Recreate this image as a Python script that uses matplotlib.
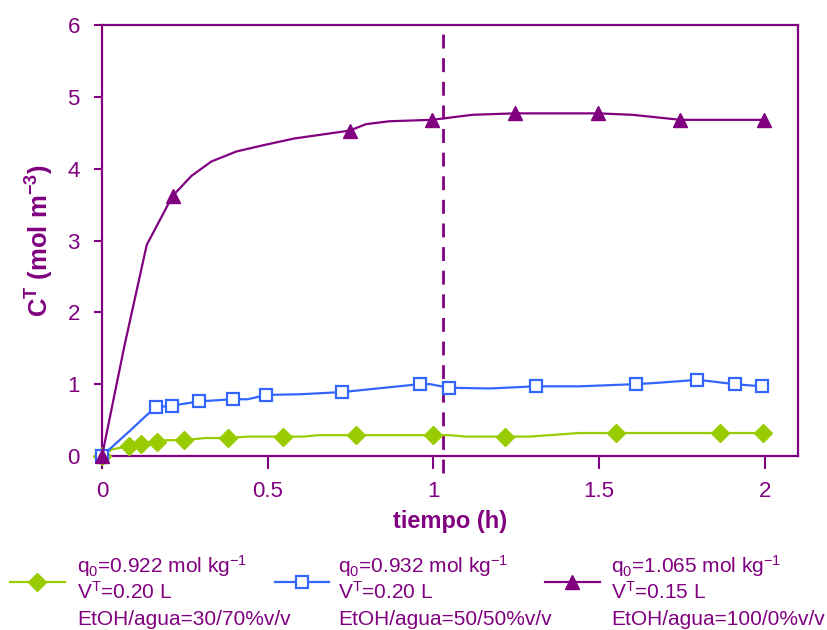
import matplotlib
matplotlib.use("Agg")
import matplotlib.pyplot as plt
from matplotlib.lines import Line2D

plt.rcParams['font.family'] = ['Liberation Sans', 'DejaVu Sans']
plt.rcParams['mathtext.fontset'] = 'custom'
plt.rcParams['mathtext.rm'] = 'Liberation Sans'
plt.rcParams['mathtext.it'] = 'Liberation Sans'
plt.rcParams['mathtext.bf'] = 'Liberation Sans:bold'

PURPLE = '#800080'
BLUE = '#3366FF'
GREEN = '#99CC00'

# Purple series (EtOH/agua = 100/0)
t_line_p = [0, 0.067, 0.135, 0.213, 0.27, 0.33, 0.406, 0.49, 0.58, 0.747, 0.797, 0.867,
            0.996, 1.118, 1.245, 1.496, 1.6, 1.745, 1.996]
c_line_p = [0, 1.52, 2.94, 3.62, 3.90, 4.10, 4.24, 4.33, 4.42, 4.53, 4.62, 4.66,
            4.68, 4.75, 4.77, 4.77, 4.75, 4.68, 4.68]
t_mark_p = [0, 0.213, 0.747, 0.996, 1.245, 1.496, 1.745, 1.996]
c_mark_p = [0, 3.62, 4.53, 4.68, 4.77, 4.77, 4.68, 4.68]

# Blue series (EtOH/agua = 50/50)
t_line_b = [0, 0.084, 0.135, 0.163, 0.21, 0.293, 0.394, 0.44, 0.496, 0.60, 0.725, 0.958,
            0.99, 1.046, 1.169, 1.309, 1.44, 1.61, 1.68, 1.796, 1.836, 1.909, 1.99]
c_line_b = [0, 0.35, 0.57, 0.68, 0.70, 0.76, 0.79, 0.79, 0.85, 0.86, 0.89, 1.00,
            1.00, 0.95, 0.94, 0.97, 0.97, 1.00, 1.02, 1.06, 1.04, 1.00, 0.97]
t_mark_b = [0, 0.163, 0.21, 0.293, 0.394, 0.496, 0.725, 0.958, 1.046, 1.309, 1.61, 1.796, 1.909, 1.99]
c_mark_b = [0.0, 0.68, 0.70, 0.76, 0.79, 0.85, 0.89, 1.00, 0.95, 0.97, 1.00, 1.06, 1.00, 0.97]

# Green series (EtOH/agua = 30/70)
t_line_g = [0, 0.029, 0.081, 0.119, 0.165, 0.195, 0.248, 0.31, 0.38, 0.44, 0.546, 0.61,
            0.652, 0.767, 0.998, 1.048, 1.098, 1.217, 1.29, 1.44, 1.55, 1.864, 1.995]
c_line_g = [0, 0.09, 0.14, 0.17, 0.20, 0.22, 0.22, 0.25, 0.25, 0.27, 0.27, 0.27,
            0.29, 0.29, 0.29, 0.29, 0.27, 0.27, 0.27, 0.32, 0.32, 0.32, 0.32]
t_mark_g = [0, 0.081, 0.119, 0.165, 0.248, 0.38, 0.546, 0.767, 0.998, 1.217, 1.55, 1.864, 1.995]
c_mark_g = [0, 0.14, 0.17, 0.20, 0.22, 0.25, 0.27, 0.29, 0.29, 0.27, 0.32, 0.32, 0.32]

t_switch = 1.03

legend_lines = [
    ["q$_0$=0.922 mol kg$^{-1}$", "V$^{\\mathrm{T}}$=0.20 L", "EtOH/agua=30/70%v/v"],
    ["q$_0$=0.932 mol kg$^{-1}$", "V$^{\\mathrm{T}}$=0.20 L", "EtOH/agua=50/50%v/v"],
    ["q$_0$=1.065 mol kg$^{-1}$", "V$^{\\mathrm{T}}$=0.15 L", "EtOH/agua=100/0%v/v"],
]

W, H = 828, 630
fig = plt.figure(figsize=(W / 100, H / 100), dpi=100)
ax = fig.add_axes([0.1232, 0.2762, 0.8406, 0.6841])

styles = [
    dict(color=GREEN, marker='D', ms=9, mfc=GREEN, mec=GREEN, mew=1.0),
    dict(color=BLUE, marker='s', ms=8, mfc='white', mec=BLUE, mew=1.6),
    dict(color=PURPLE, marker='^', ms=10, mfc=PURPLE, mec=PURPLE, mew=1.0),
]

series = [
    (t_line_g, c_line_g, t_mark_g, c_mark_g),
    (t_line_b, c_line_b, t_mark_b, c_mark_b),
    (t_line_p, c_line_p, t_mark_p, c_mark_p),
]
for i, (tl, cl, tm, cm) in enumerate(series):
    st = styles[i]
    ax.plot(tl, cl, color=st['color'], lw=1.6, zorder=3 + i)
    ax.plot(tm, cm, ls='none', marker=st['marker'], ms=st['ms'], mfc=st['mfc'],
            mec=st['mec'], mew=st['mew'], zorder=4 + i, clip_on=False)

ax.axvline(t_switch, ymin=-0.04, ymax=1.0, color=PURPLE, lw=2, ls=(0, (5, 3.5)), clip_on=False, zorder=2)

ax.set_xlim(0, 2.1)
ax.set_ylim(0, 6)
ax.set_xticks([0, 0.5, 1, 1.5, 2])
ax.set_xticklabels(['0', '0.5', '1', '1.5', '2'])
ax.set_yticks([0, 1, 2, 3, 4, 5, 6])

for s in ax.spines.values():
    s.set_color(PURPLE)
    s.set_linewidth(1.6)
ax.tick_params(axis='both', colors=PURPLE, labelsize=16, width=1.5, direction='out')
ax.tick_params(axis='y', length=6, pad=10)
ax.tick_params(axis='x', length=9, pad=9)

ax.set_xlabel('tiempo (h)', fontsize=17, fontweight='bold', color=PURPLE, labelpad=6)
ax.set_ylabel('C$^{\\mathbf{T}}$ (mol m$^{\\mathbf{-3}}$)', fontsize=18.5, fontweight='bold', color=PURPLE, labelpad=8)

# Legend (manual layout, three columns of three text lines each)
handle_x = [(10, 65), (275, 329), (545, 600)]
text_x = [77, 338, 611]
handle_y = 582
baselines = [573, 599, 625]
for i in range(3):
    st = styles[i]
    x0, x1 = handle_x[i]
    fig.add_artist(Line2D([x0 / W, x1 / W], [1 - handle_y / H] * 2, transform=fig.transFigure,
                          color=st['color'], lw=1.6))
    fig.add_artist(Line2D([(x0 + x1) / 2 / W], [1 - handle_y / H], transform=fig.transFigure,
                          ls='none', marker=st['marker'], ms=st['ms'], mfc=st['mfc'],
                          mec=st['mec'], mew=st['mew']))
    for j, line in enumerate(legend_lines[i]):
        fig.text(text_x[i] / W, 1 - baselines[j] / H, line, fontsize=15, color=PURPLE,
                 ha='left', va='baseline')

fig.savefig('out.png', dpi=100)
